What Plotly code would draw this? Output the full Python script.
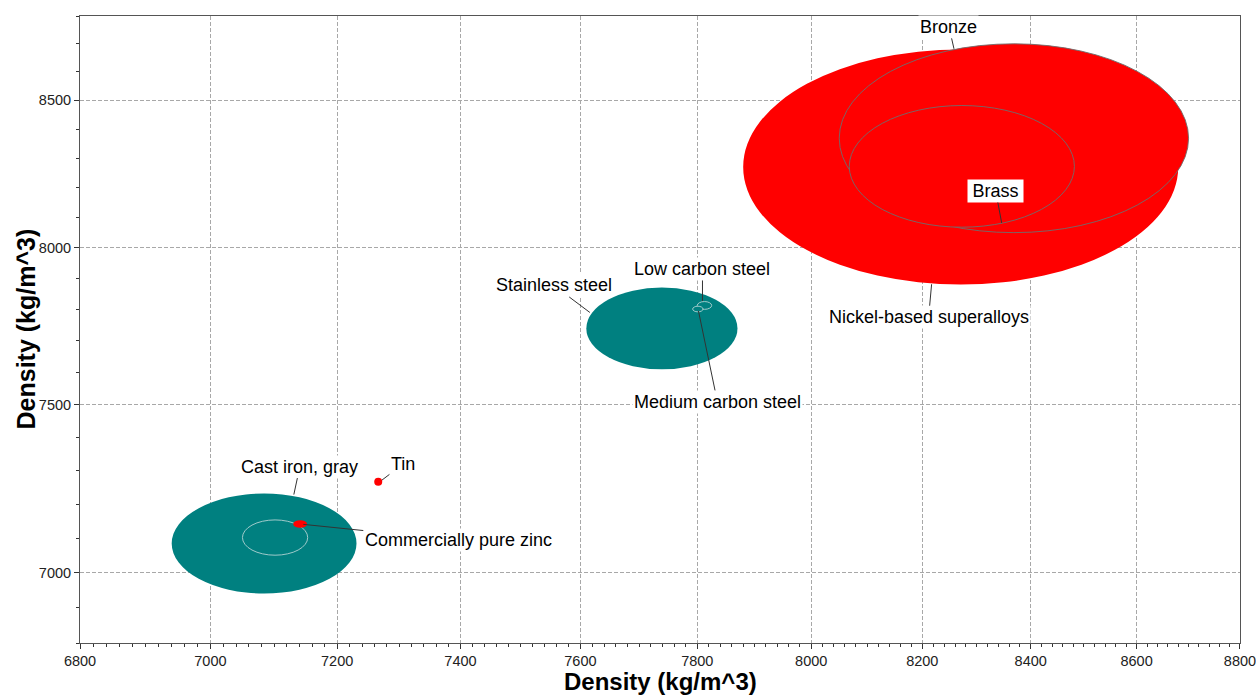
import math
import plotly.graph_objects as go

# Material bubbles: density range (kg/m^3), listed in drawing order
materials = ["Cast iron, gray", "", "Commercially pure zinc",
             "Stainless steel", "Low carbon steel", "Medium carbon steel",
             "Nickel-based superalloys", "Bronze", "Brass"]
density_min = [6940, 7050, 7130, 7610, 7800, 7792, 7880, 8050, 8068]
density_max = [7231, 7153, 7152, 7870, 7825, 7810, 8680, 8700, 8482]
family = ["ferrous", "ferrous", "nonferrous", "ferrous", "ferrous", "ferrous",
          "nonferrous", "nonferrous", "nonferrous"]
outlined = [False, True, False, False, True, True, False, True, True]

# Single-value material drawn as a point
point_names = ["Tin"]
point_density = [7266]

# Where each label's leader line touches its bubble (density, density)
label_names = ["Bronze", "Brass", "Nickel-based superalloys", "Stainless steel",
               "Low carbon steel", "Medium carbon steel", "Cast iron, gray",
               "Tin", "Commercially pure zinc"]
label_x = [8258, 8346, 8217, 7616, 7809, 7802, 7131, 7272, 7146]
label_y = [8682, 8082, 7881, 7790, 7827, 7795, 7228, 7271, 7140]

x_ticks = [6800, 7000, 7200, 7400, 7600, 7800, 8000, 8200, 8400, 8600, 8800]
y_ticks = [7000, 7500, 8000, 8500]
axis_min, axis_max = 6800, 8800
axis_title = "Density (kg/m^3)"

FONT = "Liberation Sans, Arial, sans-serif"
colors = {"ferrous": "#008080", "nonferrous": "#ff0000"}
outline_colors = {"ferrous": "rgba(175,210,210,0.9)", "nonferrous": "rgba(110,110,110,0.9)"}

# label text offsets (pixels) from the leader-line anchor
offsets = {
    "Bronze": (-5, -22), "Brass": (-6, -32), "Nickel-based superalloys": (-3, 33),
    "Stainless steel": (-36, -27), "Low carbon steel": (0, -32),
    "Medium carbon steel": (19, 91), "Cast iron, gray": (6, -28),
    "Tin": (21, -16), "Commercially pure zinc": (155, 16),
}

fig = go.Figure()

fig.add_trace(go.Scatter(
    x=point_density, y=point_density, mode="markers",
    marker=dict(size=8, color=colors["nonferrous"], line=dict(width=0)),
    name=point_names[0], showlegend=False, hoverinfo="skip",
))

shapes = []
for name, lo, hi, fam, edge in zip(materials, density_min, density_max, family, outlined):
    shapes.append(dict(
        type="circle", xref="x", yref="y", x0=lo, x1=hi, y0=lo, y1=hi,
        fillcolor=colors[fam], layer="above",
        line=dict(color=outline_colors[fam] if edge else colors[fam],
                  width=1 if edge else 0),
    ))

annotations = []
for name, lx, ly in zip(label_names, label_x, label_y):
    dx, dy = offsets[name]
    text = "\u2009" + name + "\u2009" if name == "Brass" else name
    annotations.append(dict(
        x=math.log10(lx), y=math.log10(ly), xref="x", yref="y",
        text=text, showarrow=True, arrowhead=0, arrowwidth=1, arrowcolor="#333333",
        ax=dx, ay=dy, standoff=0,
        font=dict(family=FONT, size=18, color="#000000"),
        bgcolor="#ffffff", borderpad=1,
    ))

# axis titles
title_font = dict(family=FONT, size=24, color="#000000", weight="bold")
annotations.append(dict(
    text=axis_title, xref="paper", yref="paper", x=0.5, y=0,
    xanchor="center", yanchor="middle", yshift=-38.5, showarrow=False, font=title_font,
))
annotations.append(dict(
    text=axis_title, xref="paper", yref="paper", x=0, y=0.5, textangle=-90,
    xanchor="center", yanchor="middle", xshift=-55, showarrow=False,
    font=dict(title_font, size=25),
))

axis_common = dict(
    type="log",
    range=[math.log10(axis_min - 0.01), math.log10(axis_max + 0.01)],
    showline=True, linecolor="#555555", linewidth=1, mirror=True,
    ticks="outside", ticklen=5, tickcolor="#333333", tickwidth=1,
    showgrid=True, gridcolor="#a8a8a8", gridwidth=1, griddash="4px,2px",
    zeroline=False, automargin=False, ticklabeloverflow="allow",
    tickfont=dict(family=FONT, size=14.5, color="#222222"),
)

fig.update_xaxes(
    **axis_common,
    tickvals=x_ticks, ticktext=[str(v) for v in x_ticks],
    minor=dict(tickvals=list(range(axis_min, axis_max + 1, 20)), ticks="outside",
               ticklen=3, tickcolor="#333333", showgrid=False),
)
fig.update_yaxes(
    **axis_common,
    tickvals=y_ticks, ticktext=[str(v) for v in y_ticks],
    minor=dict(tickvals=list(range(axis_min, axis_max + 1, 100)), ticks="outside",
               ticklen=3, tickcolor="#333333", showgrid=False),
)

fig.update_layout(
    width=1256, height=695,
    margin=dict(l=80, r=16, t=16, b=52),
    paper_bgcolor="#ffffff", plot_bgcolor="#ffffff",
    shapes=shapes, annotations=annotations, showlegend=False,
    font=dict(family=FONT),
)

fig.write_html("out.html")
